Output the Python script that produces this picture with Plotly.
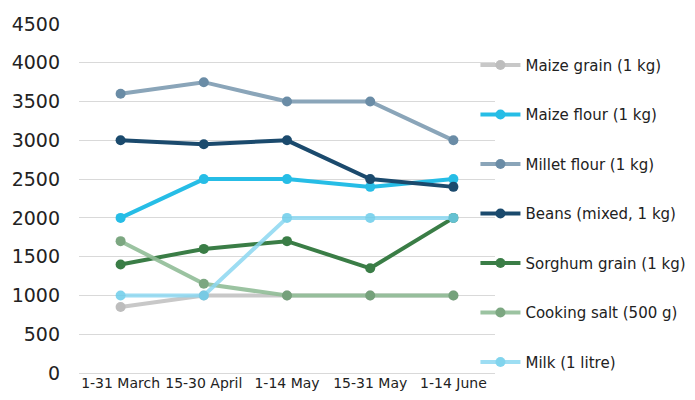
import plotly.graph_objects as go

periods = ["1-31 March", "15-30 April", "1-14 May", "15-31 May", "1-14 June"]
series_names = ["Maize grain (1 kg)", "Maize flour (1 kg)", "Millet flour (1 kg)",
                "Beans (mixed, 1 kg)", "Sorghum grain (1 kg)", "Cooking salt (500 g)",
                "Milk (1 litre)"]
maize_grain = [850, 1000, 1000, 1000, 1000]
maize_flour = [2000, 2500, 2500, 2400, 2500]
millet_flour = [3600, 3750, 3500, 3500, 3000]
beans = [3000, 2950, 3000, 2500, 2400]
sorghum = [1400, 1600, 1700, 1350, 2000]
cooking_salt = [1700, 1150, 1000, 1000, 1000]
milk = [1000, 1000, 2000, 2000, 2000]
values = [maize_grain, maize_flour, millet_flour, beans, sorghum, cooking_salt, milk]

line_colors = ["#C8C8C8", "#26BDE6", "#8AA5B9", "#1B4A6D", "#3A7D46", "#91BD97", "#8CD8F1"]
marker_colors = ["#BDBDBD", "#26BDE6", "#6A8CA6", "#1B4A6D", "#3A7D46", "#6E9E74", "#6CCDEB"]
opac = [1, 1, 1, 1, 1, 0.9, 0.85]

fig = go.Figure()
for name, vals, lc, mc, op in zip(series_names, values, line_colors, marker_colors, opac):
    fig.add_trace(go.Scatter(
        x=periods, y=vals, name=name, mode="lines+markers",
        line=dict(color=lc, width=4),
        marker=dict(color=mc, size=10),
        opacity=op, legendgroup=name,
    ))

fig.update_layout(
    width=695, height=400,
    margin=dict(l=71, r=208, t=16, b=35, autoexpand=False),
    plot_bgcolor="white", paper_bgcolor="white",
    font=dict(family="DejaVu Sans, sans-serif", color="#222"),
    showlegend=True,
    legend=dict(x=0.953, y=0.929, xanchor="left", yanchor="top",
                font=dict(size=15), tracegroupgap=27, itemwidth=40,
                bgcolor="rgba(0,0,0,0)"),
    xaxis=dict(showgrid=False, showline=False, ticks="", tickfont=dict(size=14),
               tickangle=0, range=[-0.5, 4.5], automargin=False),
    yaxis=dict(range=[0, 4500], dtick=500, showgrid=True, gridcolor="#D9D9D9",
               gridwidth=1, zeroline=True, zerolinecolor="#D9D9D9", zerolinewidth=1,
               tickfont=dict(size=19), ticks="", ticklabelstandoff=18, automargin=False),
)
fig.write_html("out.html")
